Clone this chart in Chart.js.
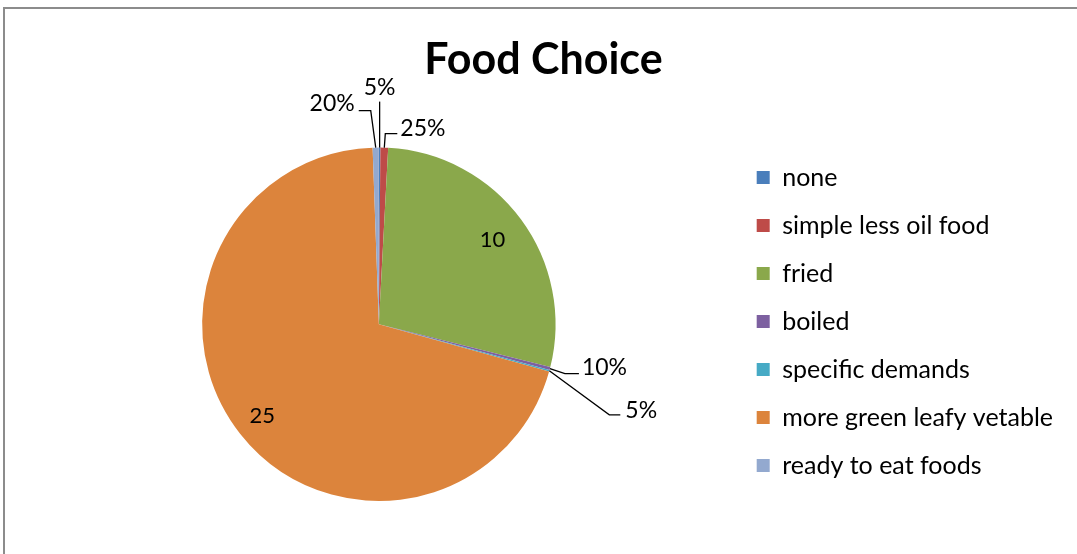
<!DOCTYPE html>
<html>
<head>
<meta charset="utf-8">
<script src="https://cdn.jsdelivr.net/npm/chart.js@4.4.1/dist/chart.umd.min.js"></script>
<style>
  html, body { margin: 0; padding: 0; background: #fff; overflow: hidden; }
  #frame { position: absolute; left: 3px; top: 7px; width: 1200px; height: 700px; border: 2px solid #8c8c8c; }
  #wrap { position: absolute; left: 0; top: 0; width: 1095px; height: 554px; }
</style>
</head>
<body>
<div id="frame"></div>
<div id="wrap"><canvas id="chart"></canvas></div>
<script>
// chart data
const categories = ['none', 'simple less oil food', 'fried', 'boiled', 'specific demands', 'more green leafy vetable', 'ready to eat foods'];
const values = [0.05, 0.25, 10, 0.1, 0.05, 25, 0.2];
const valueLabels = ['5%', '25%', '10', '10%', '5%', '25', '20%'];
const colors = ['#4a7ebb', '#be4b48', '#8aa84b', '#7d60a0', '#46aac5', '#dc843c', '#93a9cf'];

// label placement relative to each slice: inside labels use a radius fraction,
// outside labels use a leader line (offsets from the slice edge point)
const labelStyle = [
  { out: true, line: [[0, -46]], text: [0, -60], align: 'center' },
  { out: true, line: [[1, -14], [13, -14]], text: [16, -19], align: 'left' },
  { out: false, r: 0.8 },
  { out: true, line: [[15, 5], [29, 5]], text: [32, -1], align: 'left' },
  { out: true, line: [[60, 44], [71, 44]], text: [76, 40], align: 'left' },
  { out: false, r: 0.84 },
  { out: true, line: [[-5, -37], [-17, -37]], text: [-21, -44], align: 'right' }
];

const labelPlugin = {
  id: 'sliceLabels',
  afterDatasetsDraw(chart) {
    const ctx = chart.ctx;
    const arcs = chart.getDatasetMeta(0).data;
    ctx.save();
    ctx.fillStyle = '#000';
    ctx.strokeStyle = '#000';
    ctx.lineWidth = 1.3;
    ctx.textBaseline = 'middle';
    arcs.forEach((arc, i) => {
      const p = arc.getProps(['x', 'y', 'startAngle', 'endAngle', 'outerRadius']);
      const mid = (p.startAngle + p.endAngle) / 2;
      const s = labelStyle[i];
      if (!s.out) {
        ctx.font = '22px Lato';
        ctx.textAlign = 'center';
        ctx.fillText(valueLabels[i], p.x + Math.cos(mid) * p.outerRadius * s.r, p.y + Math.sin(mid) * p.outerRadius * s.r);
        return;
      }
      const ex = p.x + Math.cos(mid) * p.outerRadius;
      const ey = p.y + Math.sin(mid) * p.outerRadius;
      ctx.beginPath();
      ctx.moveTo(ex, ey);
      s.line.forEach(pt => ctx.lineTo(ex + pt[0], ey + pt[1]));
      ctx.stroke();
      ctx.font = '23px Lato';
      ctx.textAlign = s.align;
      ctx.fillText(valueLabels[i], ex + s.text[0], ey + s.text[1]);
    });
    ctx.restore();
  }
};

new Chart(document.getElementById('chart'), {
  type: 'pie',
  data: {
    labels: categories,
    datasets: [{
      data: values,
      backgroundColor: colors,
      borderWidth: 0
    }]
  },
  options: {
    responsive: true,
    maintainAspectRatio: false,
    animation: false,
    layout: { padding: { left: 24, right: 32, top: 0, bottom: 53 } },
    plugins: {
      title: {
        display: true,
        text: 'Food Choice',
        color: '#000',
        font: { family: 'Lato', size: 43, weight: 'bold' },
        padding: { top: 34, bottom: 62 }
      },
      legend: {
        position: 'right',
        align: 'end',
        labels: {
          color: '#000',
          font: { family: 'Lato', size: 25 },
          boxWidth: 13,
          boxHeight: 13,
          padding: 23
        }
      },
      tooltip: { enabled: false }
    }
  },
  plugins: [labelPlugin]
});
</script>
</body>
</html>
